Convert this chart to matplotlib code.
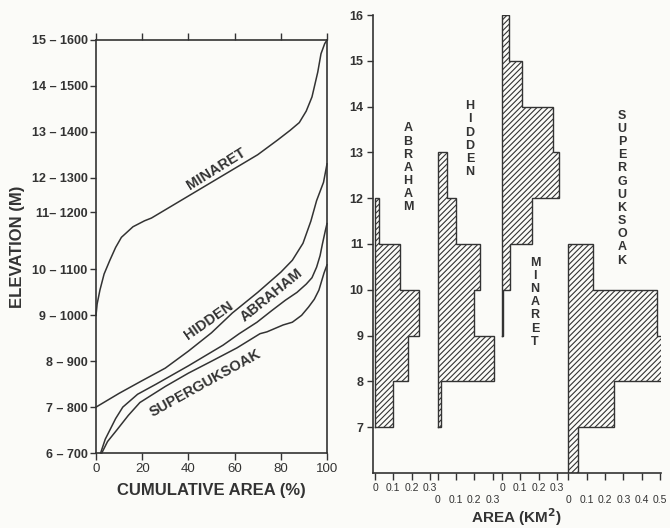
import matplotlib
matplotlib.use("Agg")
import matplotlib.pyplot as plt

plt.rcParams['font.family'] = ['Liberation Sans', 'DejaVu Sans']
plt.rcParams['hatch.linewidth'] = 0.8

INK = "#333333"
PAPER = "#fbfbf8"

# --- hypsometric curves (cumulative area %, elevation index 6..15)
MINARET_X = [0, 0.5, 1.7, 3.5, 6, 8.5, 11, 16, 21, 24, 30, 40, 50, 60, 70, 78.6, 84, 88, 91, 93.5, 96,
             97.4, 99, 100]
MINARET_Y = [9.0, 9.25, 9.55, 9.9, 10.2, 10.48, 10.7, 10.93, 11.06, 11.12, 11.3, 11.6, 11.9, 12.2, 12.5,
             12.82, 13.03, 13.2, 13.45, 13.76, 14.3, 14.7, 14.92, 15.0]
HIDDEN_X = [0, 5, 10, 19, 30, 40, 50, 59, 70, 80, 85, 89.6, 93, 95.5, 98.5, 100]
HIDDEN_Y = [7.0, 7.15, 7.3, 7.55, 7.85, 8.22, 8.62, 9.05, 9.5, 9.94, 10.2, 10.57, 11.05, 11.5, 11.9, 12.3]
ABRAHAM_X = [2, 4, 6, 8.5, 11.6, 18, 26, 40, 55, 62, 69.7, 76, 82, 87, 91, 93.5, 95.5, 97, 98, 99.3, 100]
ABRAHAM_Y = [6.0, 6.3, 6.5, 6.75, 7.0, 7.28, 7.5, 7.9, 8.35, 8.6, 8.85, 9.1, 9.33, 9.5, 9.68, 9.82, 10.05,
             10.3, 10.55, 10.85, 11.0]
SUPERG_X = [2.5, 5, 9, 14, 19, 30, 40, 50, 61, 71, 74, 81, 85, 89, 92, 94.5, 96.5, 98.7, 100]
SUPERG_Y = [6.0, 6.25, 6.5, 6.82, 7.1, 7.45, 7.74, 8.0, 8.29, 8.6, 8.64, 8.79, 8.85, 9.0, 9.18, 9.35,
            9.55, 9.92, 10.1]

ELEV_TICKS = [6, 7, 8, 9, 10, 11.25, 12, 13, 14, 15]
ELEV_LABELS = ["6 – 700", "7 – 800", "8 – 900", "9 – 1000", "10 – 1100", "11– 1200",
               "12 – 1300", "13 – 1400", "14 – 1500", "15 – 1600"]
CUM_TICKS = [0, 20, 40, 60, 80, 100]

# --- area histograms (km2 per elevation band, band bottoms)
ABRAHAM_BANDS = [7, 8, 9, 10, 11]
ABRAHAM_AREA = [0.10, 0.18, 0.24, 0.137, 0.02]
HIDDEN_BANDS = [7, 8, 9, 10, 11, 12]
HIDDEN_AREA = [0.02, 0.31, 0.20, 0.23, 0.10, 0.05]
MINARET_BANDS = [9, 10, 11, 12, 13, 14, 15]
MINARET_AREA = [0.004, 0.045, 0.165, 0.31, 0.28, 0.11, 0.04]
SUPERG_BANDS = [6, 7, 8, 9, 10]
SUPERG_AREA = [0.05, 0.25, 0.515, 0.485, 0.135]

# zero of each small x axis along the shared baseline
OFFSETS = {"ABRAHAM": 0.0, "HIDDEN": 0.342, "MINARET": 0.694, "SUPERGUKSOAK": 1.057}
AREA_TICKS = {"ABRAHAM": [0, 0.1, 0.2, 0.3], "HIDDEN": [0, 0.1, 0.2, 0.3],
              "MINARET": [0, 0.1, 0.2, 0.3], "SUPERGUKSOAK": [0, 0.1, 0.2, 0.3, 0.4, 0.5]}
AREA_TICK_LABELS = {"ABRAHAM": ["0", "0.1", "0.2", "0.3"], "HIDDEN": ["0", "0.1", "0.2", "0.3"],
                    "MINARET": ["0", "0.1", "0.2", "0.3"],
                    "SUPERGUKSOAK": ["0", "0.1", "0.2", "0.3", "0.4", "0.5"]}

W, H = 670, 528
fig = plt.figure(figsize=(W / 100, H / 100), dpi=100, facecolor=PAPER)

# ---------------- left panel
ax1 = fig.add_axes([96 / W, (H - 453) / H, 231 / W, 413 / H])
ax1.set_facecolor(PAPER)
ax1.set_xlim(0, 100)
ax1.set_ylim(6, 15)
for xs, ys in [(MINARET_X, MINARET_Y), (HIDDEN_X, HIDDEN_Y), (ABRAHAM_X, ABRAHAM_Y), (SUPERG_X, SUPERG_Y)]:
    ax1.plot(xs, ys, color=INK, lw=1.1, solid_joinstyle="round", clip_on=False)
for s in ax1.spines.values():
    s.set_color(INK)
    s.set_linewidth(1.2)
ax1.set_xticks(CUM_TICKS)
ax1.set_yticks(ELEV_TICKS, ELEV_LABELS)
ax1.tick_params(axis="x", top=True, bottom=True, direction="out", length=5, width=1,
                color=INK, labelsize=9.5, labelcolor=INK, pad=2)
ax1.tick_params(axis="y", direction="out", length=4, width=1, color=INK, labelsize=9,
                labelcolor=INK, pad=2)
for lab in ax1.get_yticklabels():
    lab.set_fontweight("bold")
ax1.set_xlabel("CUMULATIVE AREA (%)", fontsize=12, fontweight="bold", color=INK, labelpad=6)
ax1.set_ylabel("ELEVATION (M)", fontsize=12, fontweight="bold", color=INK, labelpad=5)

curve_labels = [("MINARET", 52, 12.2, 32), ("HIDDEN", 48.7, 8.88, 35),
                ("ABRAHAM", 76, 9.45, 39), ("SUPERGUKSOAK", 47.3, 7.52, 29)]
for name, x, y, rot in curve_labels:
    ax1.text(x, y, name, rotation=rot, ha="center", va="center", fontsize=10.5,
             fontweight="bold", color=INK, rotation_mode="anchor")

# ---------------- right panel
ax2 = fig.add_axes([373 / W, (H - 473) / H, 287.5 / W, 458 / H])
ax2.set_facecolor("none")
ax2.set_xlim(-0.011, 1.560)
ax2.set_ylim(6, 16)
series = [("ABRAHAM", ABRAHAM_BANDS, ABRAHAM_AREA), ("HIDDEN", HIDDEN_BANDS, HIDDEN_AREA),
          ("MINARET", MINARET_BANDS, MINARET_AREA), ("SUPERGUKSOAK", SUPERG_BANDS, SUPERG_AREA)]
for name, bands, area in series:
    off = OFFSETS[name]
    # hatch only, outline drawn as one stepped polygon
    ax2.barh(bands, area, height=1, left=off, align="edge", facecolor="none",
             edgecolor=INK, linewidth=0, hatch="//////")
    ox, oy = [off], [bands[0]]
    for b, a in zip(bands, area):
        ox += [off + a, off + a]
        oy += [b, b + 1]
    ox += [off, off]
    oy += [bands[-1] + 1, bands[0]]
    ax2.plot(ox, oy, color=INK, lw=1.0, solid_joinstyle="miter")

ax2.spines["top"].set_visible(False)
ax2.spines["right"].set_visible(False)
for s in ("left", "bottom"):
    ax2.spines[s].set_color(INK)
    ax2.spines[s].set_linewidth(1.2)
ax2.set_yticks(range(7, 17))
ax2.tick_params(axis="y", direction="out", length=4, width=1, color=INK, labelsize=9,
                labelcolor=INK, pad=3)
for lab in ax2.get_yticklabels():
    lab.set_fontweight("bold")

major_pos, major_lab, minor_pos, minor_lab = [], [], [], []
for name in ["ABRAHAM", "MINARET"]:
    major_pos += [OFFSETS[name] + t for t in AREA_TICKS[name]]
    major_lab += AREA_TICK_LABELS[name]
for name in ["HIDDEN", "SUPERGUKSOAK"]:
    minor_pos += [OFFSETS[name] + t for t in AREA_TICKS[name]]
    minor_lab += AREA_TICK_LABELS[name]
ax2.set_xticks(major_pos, major_lab)
ax2.set_xticks(minor_pos, minor_lab, minor=True)
ax2.tick_params(axis="x", which="major", direction="out", length=5, width=1, color=INK,
                labelsize=7.5, labelcolor=INK, pad=2)
ax2.tick_params(axis="x", which="minor", direction="out", length=5, width=1, color=INK,
                labelsize=7.5, labelcolor=INK, pad=11)
ax2.set_xlabel("AREA (KM$^{\\mathbf{2}}$)", fontsize=11, fontweight="bold", color=INK, labelpad=1)

stack_labels = [("ABRAHAM", 0.18, 12.66), ("HIDDEN", 0.52, 13.29),
                ("MINARET", 0.874, 9.73), ("SUPERGUKSOAK", 1.35, 12.22)]
for name, x, y in stack_labels:
    ax2.text(x, y, "\n".join(name), ha="center", va="center", fontsize=9,
             fontweight="bold", color=INK, linespacing=1.13)

fig.savefig("out.png", dpi=100, facecolor=PAPER)
